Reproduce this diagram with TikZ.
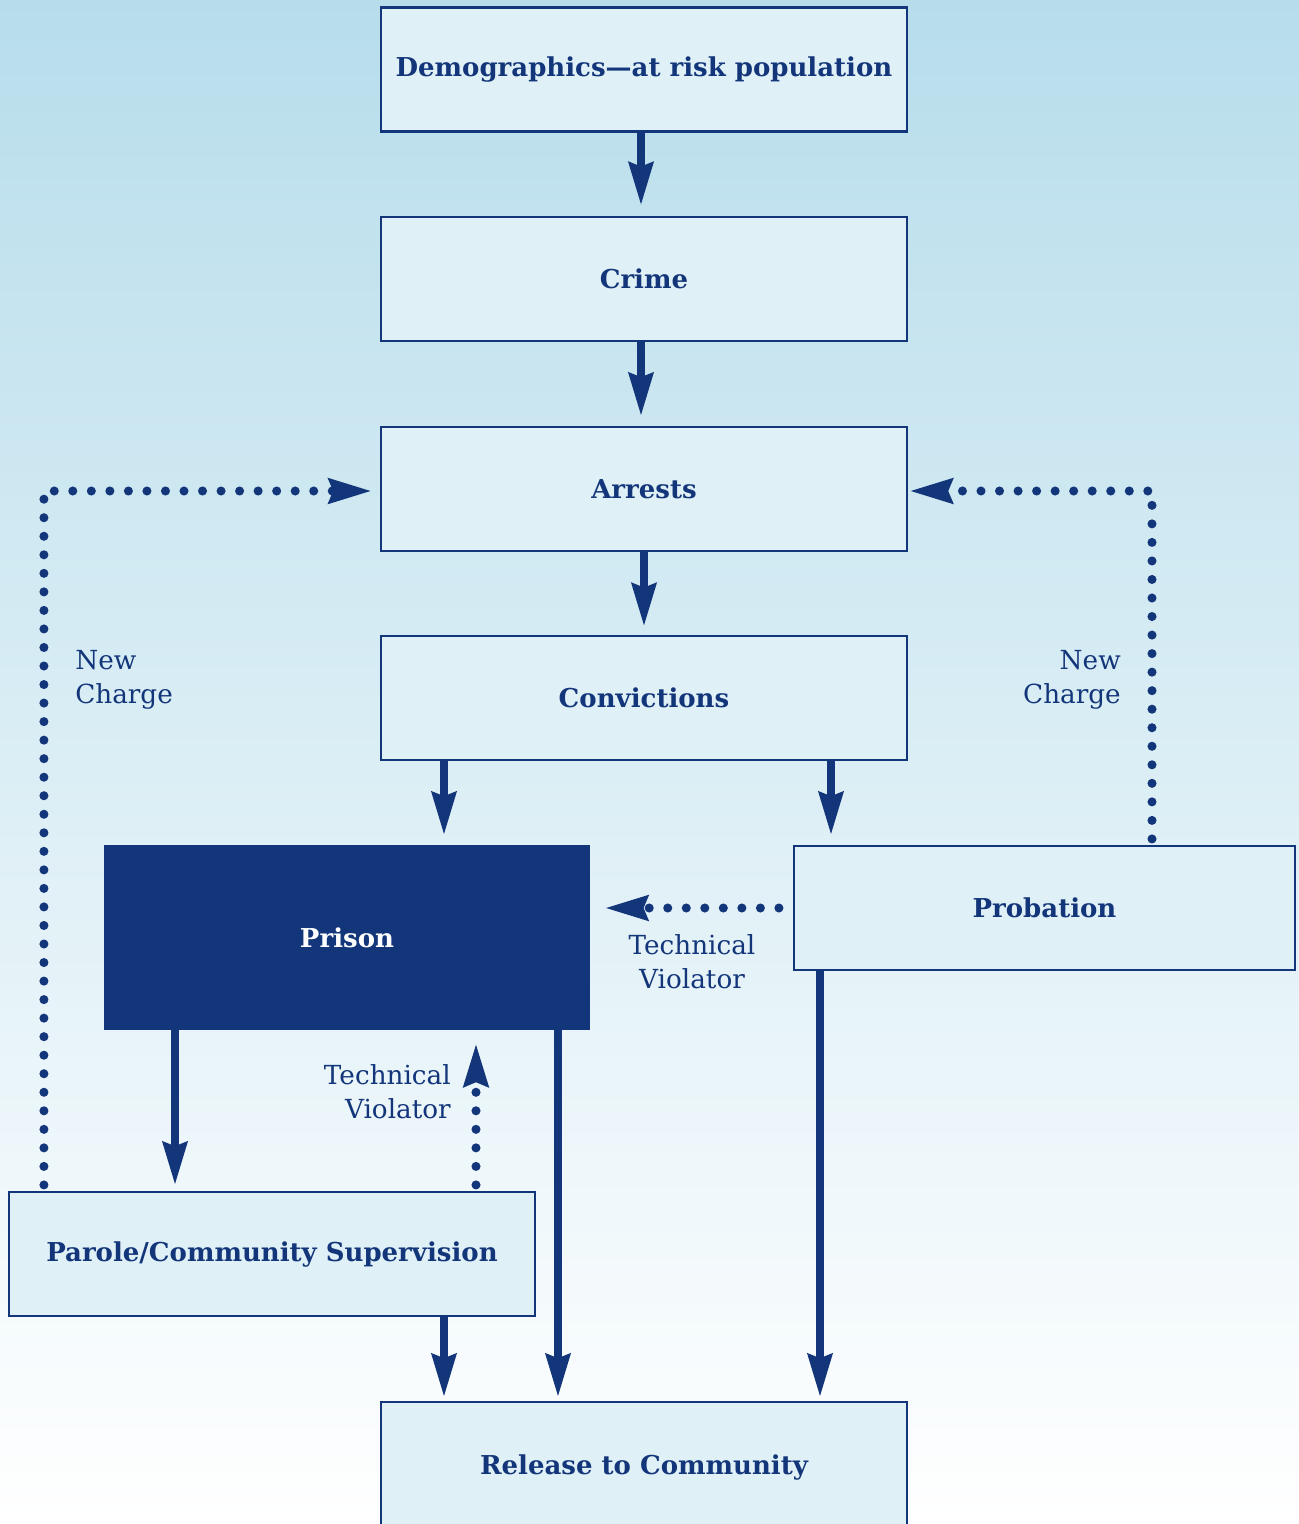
\documentclass[tikz,border=0pt]{standalone}
\usepackage{fontspec}
\setmainfont{DejaVu Serif}
\usetikzlibrary{arrows.meta,calc}
\definecolor{cjnavy}{RGB}{19,54,122}
\definecolor{boxfill}{RGB}{224,240,247}
\definecolor{bgtop}{RGB}{183,221,235}
\newcommand\boldlbl{\fontsize{19.5}{23}\selectfont\bfseries}
\newcommand\reglbl{\fontsize{19.7}{25.5}\selectfont}
\tikzset{
  box/.style={draw=cjnavy, line width=1.6pt, fill=boxfill, minimum width={526*0.75pt},
    minimum height={124*0.75pt}, font=\boldlbl, text=cjnavy, inner sep=0pt},
  flow/.style={draw=cjnavy, line width=6pt, -{Stealth[length=32pt,width=18pt,inset=3pt]}},
  dotflow/.style={draw=cjnavy, line width=6.8pt, line cap=round, dash pattern=on 0pt off 13.9pt,
    -{Stealth[length=32pt,width=18pt,inset=3pt,line cap=butt]}},
  lbl/.style={font=\reglbl, text=cjnavy, inner sep=0pt}
}
\begin{document}
\begin{tikzpicture}[x=0.75pt,y=-0.75pt]
\useasboundingbox (0,0) rectangle (1299,1524);
\shade[top color=bgtop, bottom color=white] (0,0) rectangle (1299,1524);

\node[box] (demo) at (644,69.5) {Demographics---at risk population};
\node[box] (crime) at (644,279) {Crime};
\node[box] (arrests) at (644,489) {Arrests};
\node[box] (conv) at (644,698) {Convictions};
\node[box, fill=cjnavy, text=white, minimum width={484*0.75pt}, minimum height={183*0.75pt}] (prison) at (347,937.5) {Prison};
\node[box, minimum width={501*0.75pt}] (prob) at (1044.5,908) {Probation};
\node[box] (parole) at (272,1254) {Parole/Community Supervision};
\node[box, minimum height={138*0.75pt}] (release) at (644,1471) {\raisebox{9pt}{Release to Community}};

% solid flows
\draw[flow, shorten >=8pt] ($(demo.south)+(-3,0)$) -- ($(crime.north)+(-3,0)$);
\draw[flow, shorten >=7.5pt] ($(crime.south)+(-3,0)$) -- ($(arrests.north)+(-3,0)$);
\draw[flow, shorten >=6.5pt] (arrests.south) -- (conv.north);
\draw[flow, shorten >=7.5pt] ($(conv.south)+(-200,0)$) coordinate (cA) -- (cA |- prison.north);
\draw[flow, shorten >=7.5pt] ($(conv.south)+(187,0)$) coordinate (cB) -- (cB |- prob.north);
\draw[flow, shorten >=4.5pt] ($(prison.south)+(-172,0)$) coordinate (cC) -- (cC |- parole.north);
\draw[flow, shorten >=3pt] ($(prison.south)+(211,0)$) coordinate (cD) -- (cD |- release.north);
\draw[flow, shorten >=3pt] ($(prob.south)+(-224.5,0)$) coordinate (cE) -- (cE |- release.north);
\draw[flow, shorten >=3pt] ($(parole.south)+(172,0)$) coordinate (cF) -- (cF |- release.north);

% dotted flows
\draw[dotflow, shorten >=6pt] ($(parole.north west)+(36,-6)$) coordinate (dA) |- ($(arrests.west)+(0,2)$);
\draw[dotflow, shorten >=1pt] ($(prob.north)+(107.5,-6)$) coordinate (dB) |- ($(arrests.east)+(0,2)$);
\draw[dotflow, shorten <=10.5pt, shorten >=11pt] (prob.west) -- (prison.east |- prob.west);
\draw[dotflow, shorten >=10pt] ($(parole.north)+(204,-6)$) coordinate (dC) -- (dC |- prison.south);

% labels
\node[lbl, align=left, anchor=west] (nc1) at (75,680) {New\\Charge};
\node[lbl, align=right, anchor=east] (nc2) at (1121,680) {New\\Charge};
\node[lbl, align=center] (tv1) at (692,962) {Technical\\Violator};
\node[lbl, align=right, anchor=east] (tv2) at (451,1092) {Technical\\Violator};
\end{tikzpicture}
\end{document}
